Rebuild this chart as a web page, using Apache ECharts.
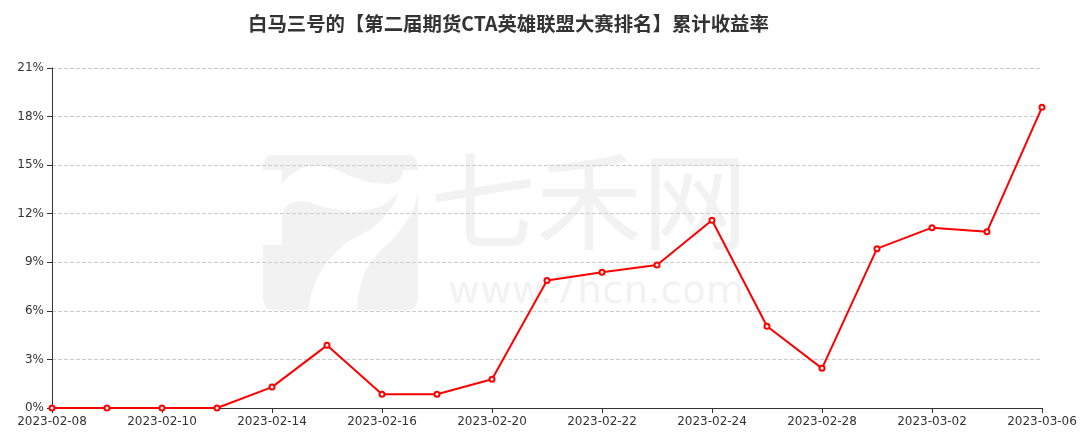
<!DOCTYPE html>
<html>
<head>
<meta charset="utf-8">
<script src="https://cdn.jsdelivr.net/npm/echarts@6/dist/echarts.min.js"></script>
<style>
html,body{margin:0;padding:0;background:#fff;}
#chart{width:1084px;height:436px;}
</style>
</head>
<body>
<div id="chart"></div>
<script>
var titleText = '白马三号的【第二届期货CTA英雄联盟大赛排名】累计收益率';
var dates = ['2023-02-08','2023-02-09','2023-02-10','2023-02-13','2023-02-14','2023-02-15','2023-02-16','2023-02-17','2023-02-20','2023-02-21','2023-02-22','2023-02-23','2023-02-24','2023-02-27','2023-02-28','2023-03-01','2023-03-02','2023-03-03','2023-03-06'];
var returns = [0,0,0,0,1.29,3.87,0.85,0.85,1.78,7.88,8.38,8.83,11.6,5.05,2.45,9.84,11.14,10.89,18.57];
var yTicks = [0,3,6,9,12,15,18,21];

var wmColor = '#f2f2f2';
var logoTop = [[263,165],[265,159],[268,156],[273,155],[408,155],[413,156],[416,159],[418,165],[418,170],[403,170],[402,175],[399,180],[394,183],[388,184],[375,183],[364,181],[350,176],[340,171],[332,168],[322,166],[312,166],[302,168],[295,172],[288,177],[282,183],[282,170],[263,170]];
var logoLeft = [[282,245],[282,217],[284,209],[289,204],[298,201],[308,202],[318,205],[328,208],[340,210],[352,212],[362,211],[372,209],[382,206],[390,200],[398,193],[394,204],[387,214],[379,222],[370,230],[358,236],[346,243],[335,253],[326,263],[318,276],[312,291],[308,310],[273,310],[268,309],[265,306],[263,300],[263,245]];
var logoRight = [[418,193],[418,300],[416,306],[413,309],[408,310],[357,310],[358,296],[361,283],[365,272],[371,262],[380,251],[392,240],[402,228],[410,216],[415,205]];

var chart = echarts.init(document.getElementById('chart'));
chart.setOption({
  backgroundColor: '#fff',
  animation: false,
  title: {
    text: titleText,
    left: 243,
    top: 9,
    textStyle: {fontSize: 19.4, fontWeight: 'bold', color: '#333', fontFamily: 'Noto Sans CJK SC'}
  },
  graphic: [
    {type: 'polygon', z: -10, silent: true, shape: {points: logoTop}, style: {fill: wmColor}},
    {type: 'polygon', z: -10, silent: true, shape: {points: logoLeft}, style: {fill: wmColor}},
    {type: 'polygon', z: -10, silent: true, shape: {points: logoRight}, style: {fill: wmColor}},
    {type: 'text', z: -10, silent: true, left: 430, top: 148,
     style: {text: '七禾网', fontSize: 106, fontFamily: 'Noto Sans CJK SC', fill: wmColor}},
    {type: 'text', z: -10, silent: true, left: 448, top: 273,
     style: {text: 'www.7hcn.com', fontSize: 39, fontFamily: 'DejaVu Sans', fill: wmColor}}
  ],
  grid: {left: 52, right: 42, top: 68, bottom: 28},
  xAxis: {
    type: 'category',
    data: dates,
    boundaryGap: false,
    axisLine: {lineStyle: {color: '#333'}},
    axisTick: {interval: 1, lineStyle: {color: '#333'}},
    axisLabel: {interval: 1, color: '#333', fontSize: 12, margin: 8, fontFamily: 'DejaVu Sans'},
    splitLine: {show: false}
  },
  yAxis: {
    type: 'value',
    min: yTicks[0],
    max: yTicks[yTicks.length - 1],
    interval: 3,
    axisLine: {show: true, lineStyle: {color: '#333'}},
    axisTick: {show: true, lineStyle: {color: '#333'}},
    axisLabel: {color: '#333', fontSize: 12, formatter: '{value}%', fontFamily: 'DejaVu Sans'},
    splitLine: {show: true, lineStyle: {type: 'dashed', color: '#ccc'}}
  },
  series: [{
    type: 'line',
    data: returns,
    symbol: 'emptyCircle',
    symbolSize: 5,
    lineStyle: {color: '#ff0000', width: 2},
    itemStyle: {color: '#ff0000', borderWidth: 1}
  }]
});
</script>
</body>
</html>
